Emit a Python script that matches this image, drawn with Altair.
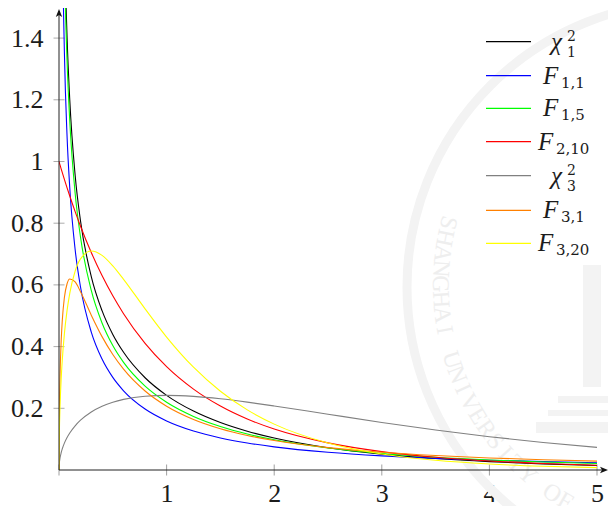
import math
import altair as alt
import pandas as pd

xs = [0.01, 0.02, 0.03, 0.05, 0.075, 0.1, 0.15, 0.2, 0.3, 0.4, 0.5, 0.6, 0.8, 1, 1.25,
      1.5, 1.75, 2, 2.5, 3, 3.5, 4, 4.5, 5]
xs_low = [0, 0.001, 0.003, 0.005]

chi1 = [3.969, 2.793, 2.269, 1.740, 1.403, 1.200, 0.9556, 0.8072, 0.6269, 0.5164, 0.4394, 0.3815,
        0.2990, 0.2420, 0.1910, 0.1539, 0.1257, 0.1038, 0.0723, 0.0514, 0.0371, 0.0270, 0.0198, 0.0146]
f11 = [3.152, 2.207, 1.784, 1.356, 1.081, 0.9151, 0.7147, 0.5931, 0.4470, 0.3595, 0.3001, 0.2568,
       0.1977, 0.1592, 0.1265, 0.1040, 0.0875, 0.0750, 0.0575, 0.0459, 0.0378, 0.0318, 0.0273, 0.0237]
f15 = [3.773, 2.652, 2.153, 1.648, 1.326, 1.131, 0.8970, 0.7546, 0.5819, 0.4765, 0.4033, 0.3488,
       0.2719, 0.2197, 0.1738, 0.1411, 0.1166, 0.0978, 0.0711, 0.0535, 0.0413, 0.0325, 0.0261, 0.0212]
f210_low = [1.0, 0.9988, 0.9964, 0.9940]
f210 = [0.9881, 0.9763, 0.9647, 0.9421, 0.9146, 0.8880, 0.8375, 0.7903, 0.7050, 0.6302, 0.5645, 0.5066,
        0.4104, 0.3349, 0.2621, 0.2072, 0.1652, 0.1328, 0.0878, 0.0596, 0.0414, 0.0294, 0.0213, 0.0156]
chi3_low = [0.0, 0.0126, 0.0218, 0.0282]
chi3 = [0.0397, 0.0559, 0.0681, 0.0870, 0.1052, 0.1200, 0.1433, 0.1614, 0.1881, 0.2066, 0.2197, 0.2289,
        0.2392, 0.2420, 0.2387, 0.2308, 0.2200, 0.2076, 0.1807, 0.1542, 0.1297, 0.1080, 0.0892, 0.0732]
f31_low = [0.0, 0.1040, 0.1780, 0.2270]
f31 = [0.3118, 0.4164, 0.4823, 0.5593, 0.6037, 0.6190, 0.6094, 0.5779, 0.5019, 0.4323, 0.3743, 0.3268,
       0.2560, 0.2068, 0.1639, 0.1339, 0.1120, 0.0955, 0.0724, 0.0573, 0.0468, 0.0391, 0.0334, 0.0289]
f320_low = [0.0, 0.0679, 0.1171, 0.1507]
f320 = [0.2113, 0.2937, 0.3536, 0.4411, 0.5176, 0.5728, 0.6446, 0.6843, 0.7097, 0.6957, 0.6617, 0.6181,
        0.5223, 0.4309, 0.3331, 0.2552, 0.1948, 0.1487, 0.0873, 0.0519, 0.0314, 0.0193, 0.0121, 0.0077]

names = ["chi1", "F11", "F15", "F210", "chi3", "F31", "F320"]
colors = ["#000000", "#0000ff", "#00ff00", "#ff0000", "#808080", "#ff8000", "#ffff00"]
x_ticks = [0, 1, 2, 3, 4, 5]
y_ticks = [0.2, 0.4, 0.6, 0.8, 1.0, 1.2, 1.4]
x_labels = [1, 2, 3, 4, 5]
legend_y = [41.7, 75.7, 108.3, 141.7, 175.7, 210.3, 243.3]
legend_base = ["χ", "F", "F", "F", "χ", "F", "F"]
legend_sub = ["1", "1,1", "1,5", "2,10", "3", "3,1", "3,20"]
legend_sup = ["2", "", "", "", "2", "", ""]
legend_base_x = [551, 543, 543, 538, 551, 543, 538]
legend_sub_x = [567, 561, 561, 556, 567, 561, 556]
watermark = "SHANGHAI UNIVERSITY OF"

W, H = 538, 462
FONT = "Liberation Serif"
SUBFONT = "DejaVu Serif"
INK = "#1c1c1c"
PALE = "#f3f3f3"
xscale = alt.Scale(domain=[0, 5], nice=False, zero=False)
yscale = alt.Scale(domain=[0, 1.4975], nice=False, zero=False)
x_axis = alt.Axis(values=x_labels, format="d", tickSize=0, domain=False, grid=False, labelFont=FONT,
                  labelFontSize=26, labelColor=INK, labelPadding=10, labelBaseline="top", labelFlush=False)
y_axis = alt.Axis(values=y_ticks, format="~g", tickSize=0, domain=False, grid=False, labelFont=FONT,
                  labelFontSize=26, labelColor=INK, labelPadding=16, labelBaseline="middle")


def px(v):
    return alt.value(v - 59)


def py(v):
    return alt.value(v - 8)


rows = []
series = [(chi1, None), (f11, None), (f15, None), (f210, f210_low), (chi3, chi3_low), (f31, f31_low), (f320, f320_low)]
for name, (vals, low) in zip(names, series):
    if low:
        rows += [{"s": name, "x": a, "y": b} for a, b in zip(xs_low, low)]
    rows += [{"s": name, "x": a, "y": b} for a, b in zip(xs, vals)]
df = pd.DataFrame(rows)
one = pd.DataFrame({"a": [0]})

layers = []

# faint watermark behind the chart
layers.append(alt.Chart(one).mark_point(filled=False, stroke=PALE, strokeWidth=9, size=570 ** 2, opacity=1).encode(
    x=px(692), y=py(287)))
for x0, x1, y0, y1 in [(583, 601, 265, 387), (558, 608, 396, 403),
                       (548, 608, 410, 416), (536, 608, 422, 433)]:
    layers.append(alt.Chart(one).mark_rect(color=PALE).encode(x=px(x0), x2=px(x1), y=py(y0), y2=py(y1)))
a0, a1 = -14.4, 60.0
for i, ch in enumerate(watermark):
    a = a0 + (a1 - a0) * i / (len(watermark) - 1)
    cx = 690 - 250 * math.cos(math.radians(a))
    cy = 285 + 250 * math.sin(math.radians(a))
    layers.append(alt.Chart(one).mark_text(text=ch, font=FONT, fontSize=24, color="#eeeeee", angle=90 - a,
                                           align="center", baseline="middle").encode(x=px(cx), y=py(cy)))

# ticks
layers.append(alt.Chart(pd.DataFrame({"x": x_ticks})).mark_tick(size=11, thickness=1, color="#777777").encode(
    x=alt.X("x:Q", scale=xscale, title=None, axis=x_axis),
    y=alt.value(H)))
layers.append(alt.Chart(pd.DataFrame({"y": y_ticks})).mark_tick(size=11, thickness=1, color="#888888").encode(
    y=alt.Y("y:Q", scale=yscale, title=None, axis=y_axis),
    x=alt.value(0)))

# curves
layers.append(alt.Chart(df).mark_line(strokeWidth=1.1, clip=True, interpolate="monotone").encode(
    x=alt.X("x:Q", scale=xscale, title=None, axis=x_axis),
    y=alt.Y("y:Q", scale=yscale, title=None, axis=y_axis),
    color=alt.Color("s:N", scale=alt.Scale(domain=names, range=colors), sort=names, legend=None),
    order=alt.Order("x:Q")))

# axis lines with arrow heads
layers.append(alt.Chart(one).mark_rule(color="#222222", strokeWidth=1).encode(x=px(59), x2=px(604), y=py(470)))
layers.append(alt.Chart(one).mark_rule(color="#222222", strokeWidth=1).encode(y=py(470), y2=py(11), x=px(59)))
arrow = "M1,0 L-1,-0.8 L-0.5,0 L-1,0.8 Z"
layers.append(alt.Chart(one).mark_point(shape=arrow, filled=True, color="#111111", size=64, opacity=1).encode(
    x=px(604), y=py(470)))
layers.append(alt.Chart(one).mark_point(shape=arrow, filled=True, color="#111111", size=64, opacity=1, angle=270).encode(
    x=px(59), y=py(13)))

# hand-built legend, because the entries need sub- and superscripts
for i, name in enumerate(names):
    ly = legend_y[i]
    has_sup = bool(legend_sup[i])
    sub_size = 14 if has_sup else 15
    sub_dy = 15.5 if has_sup else 12
    layers.append(alt.Chart(one).mark_rule(color=colors[i], strokeWidth=1.2).encode(x=px(486), x2=px(531), y=py(ly)))
    layers.append(alt.Chart(one).mark_text(text=legend_base[i], font=FONT, fontStyle="italic", fontSize=25, color=INK,
                                           align="left", baseline="alphabetic").encode(x=px(legend_base_x[i]), y=py(ly + 8)))
    layers.append(alt.Chart(one).mark_text(text=legend_sub[i], font=SUBFONT, fontSize=sub_size, color=INK,
                                           align="left", baseline="alphabetic").encode(x=px(legend_sub_x[i]), y=py(ly + sub_dy)))
    if has_sup:
        layers.append(alt.Chart(one).mark_text(text=legend_sup[i], font=SUBFONT, fontSize=sub_size, color=INK,
                                               align="left", baseline="alphabetic").encode(x=px(legend_sub_x[i]), y=py(ly - 1)))

chart = alt.layer(*layers).properties(
    width=W, height=H,
    autosize=alt.AutoSizeParams(type="none"),
    padding={"left": 51, "top": 0, "right": 11, "bottom": 36},
    background="white",
).configure_view(stroke=None)

chart.save("out.html", embed_options={"renderer": "svg", "actions": False})
